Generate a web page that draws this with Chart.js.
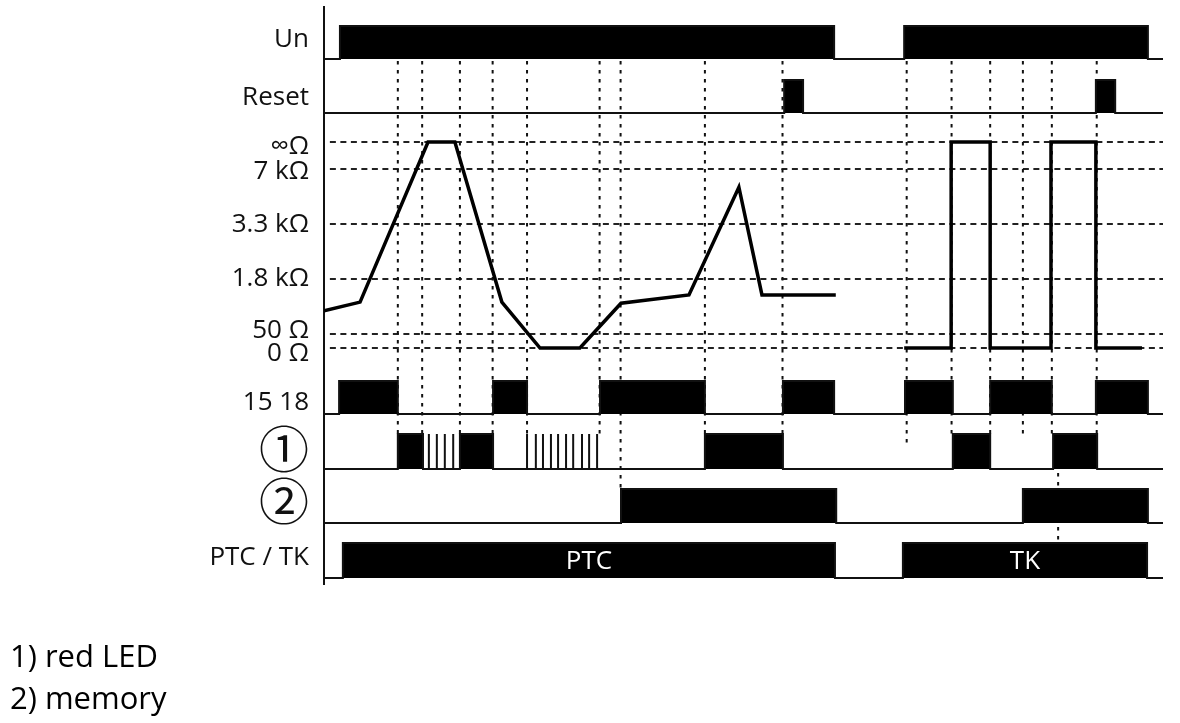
<!DOCTYPE html>
<html>
<head>
<meta charset="utf-8">
<script src="https://cdn.jsdelivr.net/npm/chart.js@4.4.1/dist/chart.umd.min.js"></script>
<style>
html, body { margin: 0; padding: 0; background: #fff; }
#wrap { width: 1180px; height: 723px; position: relative; }
</style>
</head>
<body>
<div id="wrap"><canvas id="chart"></canvas></div>
<script>
// time axis runs 0..200 (arbitrary units)
var unOn = [[3.8, 121.6], [138.3, 196.4]];
var resetOn = [[109.7, 114.2], [184.0, 188.6]];
var relayOn = [[3.6, 17.6], [40.3, 48.4], [65.8, 90.8], [109.4, 121.6], [138.5, 149.9], [158.8, 173.5], [184.0, 196.4]];
var ledOn = [[17.6, 23.6], [32.4, 40.3], [90.8, 109.4], [149.9, 158.8], [173.8, 184.3]];
var ledBlink = [25.0, 26.9, 28.8, 30.8, 48.4, 50.5, 52.2, 54.1, 55.8, 57.7, 59.4, 61.5, 63.2, 65.1];
var memoryOn = [[70.8, 122.1], [166.6, 196.4]];
var modeOn = [[4.5, 121.8], [138.0, 196.2]];
var modeNames = ['PTC', 'TK'];

// resistance levels (index 0..5) and the sensor curve
var resLabels = ['0 Ω', '50 Ω', '1.8 kΩ', '3.3 kΩ', '7 kΩ', '∞Ω'];
var ptcTimes = [0, 8.6, 24.8, 31.2, 42.4, 51.5, 61.0, 70.8, 87.0, 98.9, 104.4, 122.0];
var ptcLevels = [1.42, 1.58, 5, 5, 1.58, 0, 0, 1.56, 1.71, 3.67, 1.71, 1.71];
var tkTimes = [138.3, 149.5, 149.5, 158.8, 158.8, 173.3, 173.3, 184.0, 184.0, 195.0];
var tkLevels = [0, 0, 5, 5, 0, 0, 5, 5, 0, 0];

// dotted event markers
var eventTimes = [17.6, 23.4, 32.4, 40.2, 48.4, 65.7, 70.7, 90.8, 109.3, 138.9, 149.6, 158.8, 166.6, 173.5, 184.2];
var eventEnds = ['led', 'led', 'led', 'led', 'led', 'led', 'memory', 'led', 'led', 'ledMid', 'led', 'led', 'led', 'led', 'led'];
var lowerMarks = [175.0];

var rowLabels = ['Un', 'Reset', '15 18', '①', '②', 'PTC / TK'];

// layout of the lanes on the vertical scale (0 = bottom, 578 = top)
var lanes = {
	un: {base: 526, top: 559, label: 545},
	reset: {base: 472, top: 505, label: 487},
	relay: {base: 171, top: 204, label: 182},
	led: {base: 116, top: 151, label: 136},
	memory: {base: 62, top: 96, label: 84},
	mode: {base: 7, top: 42, label: 27}
};
var laneOrder = ['un', 'reset', 'relay', 'led', 'memory', 'mode'];
var levelY = [237, 251, 306, 361, 416, 443];
var levelLabelY = [231, 254, 306, 360, 413, 438];

function levelToY(l) {
	var i = Math.min(Math.floor(l), levelY.length - 2);
	return levelY[i] + (l - i) * (levelY[i + 1] - levelY[i]);
}

function lanePath(lane, intervals, blinks) {
	var marks = [];
	intervals.forEach(function (iv) { marks.push([iv[0], iv[1]]); });
	(blinks || []).forEach(function (t) { marks.push([t, t]); });
	marks.sort(function (p, q) { return p[0] - q[0]; });
	var pts = [{x: 0, y: lane.base}];
	marks.forEach(function (m) {
		pts.push({x: m[0], y: lane.base}, {x: m[0], y: lane.top}, {x: m[1], y: lane.top}, {x: m[1], y: lane.base});
	});
	pts.push({x: 200, y: lane.base});
	return pts;
}

function laneSet(lane, intervals, blinks) {
	return {
		data: lanePath(lane, intervals, blinks),
		borderColor: '#111',
		borderWidth: 2,
		backgroundColor: '#000',
		fill: {value: lane.base},
		order: 1
	};
}

// curve points
var curve = [];
ptcTimes.forEach(function (t, i) { curve.push({x: t, y: levelToY(ptcLevels[i])}); });
curve.push({x: 130, y: null});
tkTimes.forEach(function (t, i) { curve.push({x: t, y: levelToY(tkLevels[i])}); });

// dashed level lines
var levelLines = [];
levelY.forEach(function (y) {
	levelLines.push({x: 1.4, y: y}, {x: 200, y: y}, {x: 200, y: null});
});

// dotted event lines
var eventLines = [];
eventTimes.forEach(function (t, i) {
	var end = eventEnds[i] == 'ledMid' ? (lanes.led.base + lanes.led.top) / 2 + 5 : lanes[eventEnds[i]].top;
	eventLines.push({x: t, y: lanes.un.base - 2}, {x: t, y: end}, {x: t, y: null});
});
lowerMarks.forEach(function (t) {
	eventLines.push({x: t, y: lanes.led.base - 4}, {x: t, y: lanes.mode.top}, {x: t, y: null});
});

// tick positions + texts on the left
var tickY = [], tickText = [];
laneOrder.forEach(function (k, i) {
	tickY.push(lanes[k].label);
	tickText.push(rowLabels[i]);
});
resLabels.forEach(function (s, i) {
	tickY.push(levelLabelY[i]);
	tickText.push(s);
});

var modeText = {
	id: 'modeText',
	afterDatasetsDraw: function (chart) {
		var x = chart.scales.x, y = chart.scales.y, ctx = chart.ctx;
		ctx.save();
		ctx.fillStyle = '#fff';
		ctx.font = '26px "Open Sans"';
		ctx.textAlign = 'center';
		ctx.textBaseline = 'middle';
		modeOn.forEach(function (iv, i) {
			ctx.fillText(modeNames[i], x.getPixelForValue((iv[0] + iv[1]) / 2), y.getPixelForValue((lanes.mode.base + lanes.mode.top) / 2) + 1);
		});
		ctx.restore();
	}
};

var chart = new Chart(document.getElementById('chart'), {
	type: 'line',
	data: {
		datasets: [
			laneSet(lanes.un, unOn),
			laneSet(lanes.reset, resetOn),
			laneSet(lanes.relay, relayOn),
			laneSet(lanes.led, ledOn, ledBlink),
			laneSet(lanes.memory, memoryOn),
			laneSet(lanes.mode, modeOn),
			{
				data: curve,
				borderColor: '#000',
				borderWidth: 3.5,
				borderJoinStyle: 'miter',
				fill: false,
				order: 2
			},
			{
				data: levelLines,
				borderColor: '#222',
				borderWidth: 1.8,
				borderDash: [6, 4.5],
				fill: false,
				order: 5
			},
			{
				data: eventLines,
				borderColor: '#111',
				borderWidth: 2,
				borderDash: [3.5, 5.5],
				fill: false,
				order: 4
			}
		]
	},
	options: {
		responsive: true,
		maintainAspectRatio: false,
		animation: false,
		events: [],
		layout: {padding: {left: 10, right: 17, top: 7, bottom: 2}},
		elements: {
			point: {radius: 0, hoverRadius: 0},
			line: {tension: 0, borderCapStyle: 'butt'}
		},
		scales: {
			x: {type: 'linear', min: 0, max: 200, display: false},
			y: {
				type: 'linear',
				min: 0,
				max: 578,
				afterBuildTicks: function (scale) {
					scale.ticks = tickY.map(function (v) { return {value: v}; });
				},
				afterFit: function (scale) {
					scale.width = 314;
					scale.paddingTop = 0;
					scale.paddingBottom = 0;
				},
				grid: {display: false, drawTicks: false},
				border: {display: true, color: '#111', width: 2},
				ticks: {
					autoSkip: false,
					padding: 15,
					color: '#111',
					callback: function (v, i) { return tickText[i]; },
					font: function (ctx) {
						var s = tickText[ctx.index];
						if (s == '①' || s == '②') return {family: '"Noto Sans CJK JP"', size: 50};
						return {family: '"Open Sans"', size: 26};
					}
				}
			}
		},
		plugins: {
			legend: {display: false},
			tooltip: {enabled: false},
			title: {
				display: true,
				position: 'bottom',
				align: 'start',
				text: ['1) red LED', '2) memory'],
				color: '#000',
				font: {family: '"Open Sans"', size: 31, weight: 'normal', lineHeight: 1.355},
				padding: {top: 52, bottom: 0}
			}
		}
	},
	plugins: [modeText]
});
</script>
</body>
</html>
